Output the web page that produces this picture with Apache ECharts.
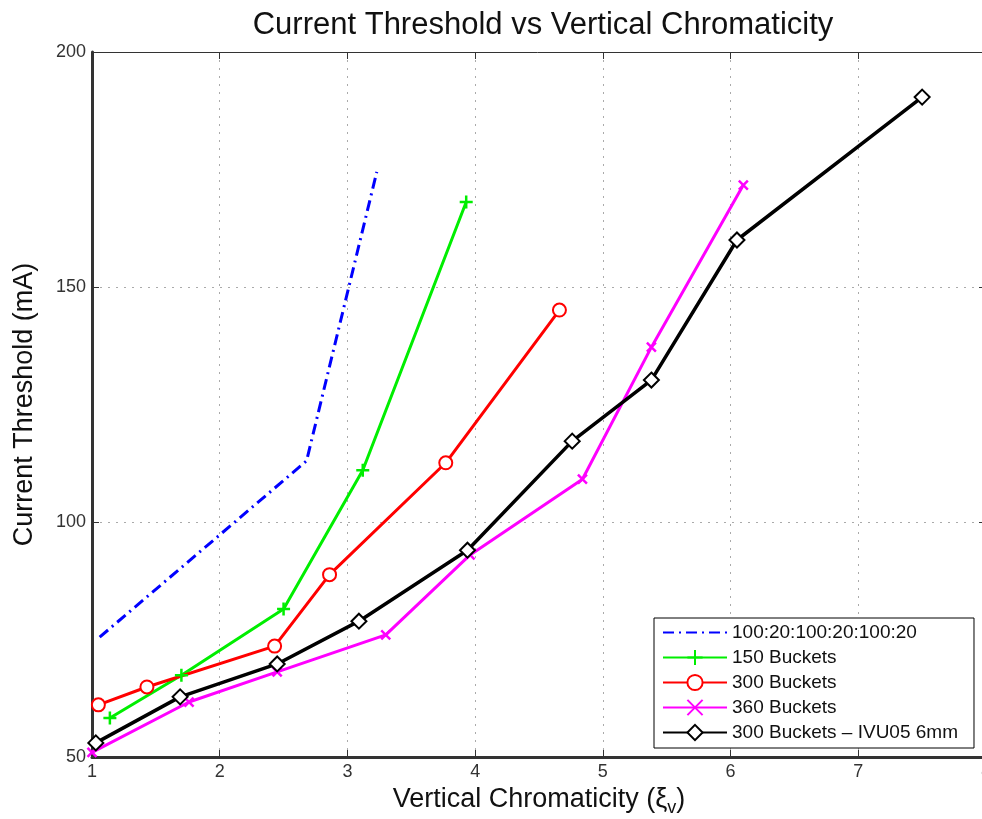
<!DOCTYPE html>
<html>
<head>
<meta charset="utf-8">
<script src="https://cdn.jsdelivr.net/npm/echarts@6/dist/echarts.min.js"></script>
<style>html,body{margin:0;padding:0;background:#fff}#c{width:982px;height:819px}</style>
</head>
<body>
<div id="c"></div>
<script>
var seriesNames = ['100:20:100:20:100:20', '150 Buckets', '300 Buckets', '360 Buckets', '300 Buckets \u2013 IVU05 6mm'];
var blueX = [1.06, 2.68, 3.23];
var blueY = [75.5, 113.0, 174.5];
var greenX = [1.14, 1.70, 2.50, 3.12, 3.93];
var greenY = [58.3, 67.4, 81.5, 111.0, 168.1];
var redX = [1.05, 1.43, 2.43, 2.86, 3.77, 4.66];
var redY = [61.1, 64.9, 73.6, 88.8, 112.6, 145.1];
var magX = [1.00, 1.76, 2.45, 3.30, 3.96, 4.84, 5.38, 6.10];
var magY = [51.0, 61.7, 68.1, 76.0, 93.0, 109.1, 137.2, 171.7];
var blkX = [1.03, 1.69, 2.45, 3.09, 3.94, 4.76, 5.38, 6.05, 7.50];
var blkY = [53.0, 62.8, 69.8, 78.9, 94.0, 117.2, 130.2, 160.0, 190.4];
var xTicks = [1, 8, 1];
var yTicks = [50, 200, 50];

function pairs(xs, ys) { return xs.map(function (x, i) { return [x, ys[i]]; }); }

var FONT = 'Liberation Sans';
var chart = echarts.init(document.getElementById('c'), null, {renderer: 'canvas'});
var plusPath = 'path://M0,5 L10,5 M5,0 L5,10';
var xPath = 'path://M0,0 L10,10 M10,0 L0,10';

chart.setOption({
  animation: false,
  backgroundColor: '#fff',
  title: {
    text: 'Current Threshold vs Vertical Chromaticity',
    left: 538, top: 5, textAlign: 'center',
    textStyle: {fontFamily: FONT, fontSize: 31, fontWeight: 'normal', color: '#111'}
  },
  grid: {left: 92, top: 52, width: 894, height: 705, show: false, containLabel: false, outerBoundsMode: 'none'},
  legend: {
    orient: 'vertical', left: 654, top: 618,
    backgroundColor: '#fff', borderColor: '#000', borderWidth: 1, borderRadius: 0,
    padding: [5, 16, 6, 8],
    itemWidth: 64, itemHeight: 19, itemGap: 6,
    textStyle: {fontFamily: FONT, fontSize: 19, color: '#111', lineHeight: 19},
    data: [{name: seriesNames[0], itemStyle: {opacity: 0}}, seriesNames[1], seriesNames[2], seriesNames[3], seriesNames[4]]
  },
  xAxis: [{
    type: 'value', min: xTicks[0], max: xTicks[1], interval: xTicks[2],
    name: '{n|Vertical Chromaticity (\u03be}{s|v}{n|)}', nameLocation: 'middle', nameGap: 26,
    nameTextStyle: {rich: {n: {fontFamily: FONT, fontSize: 27, color: '#111'}, s: {fontFamily: FONT, fontSize: 18, color: '#111', padding: [16, 0, 0, 0]}}},
    axisLine: {lineStyle: {color: '#333', width: 3}},
    axisTick: {inside: true, length: 7, lineStyle: {color: '#333', width: 1}},
    axisLabel: {fontFamily: FONT, fontSize: 18, color: '#333', margin: 6},
    splitLine: {show: true, lineStyle: {type: [2, 6], color: '#aaa', width: 1}}
  }, {
    type: 'value', position: 'top', min: xTicks[0], max: xTicks[1], interval: xTicks[2],
    axisLine: {show: true, lineStyle: {color: '#333', width: 1}},
    axisTick: {inside: true, length: 7, lineStyle: {color: '#333'}},
    axisLabel: {show: false}, splitLine: {show: false}
  }],
  yAxis: [{
    type: 'value', min: yTicks[0], max: yTicks[1], interval: yTicks[2],
    name: 'Current Threshold (mA)', nameLocation: 'middle', nameGap: 54,
    nameTextStyle: {fontFamily: FONT, fontSize: 27, color: '#111'},
    axisLine: {show: true, lineStyle: {color: '#333', width: 3}},
    axisTick: {show: true, inside: true, length: 7, lineStyle: {color: '#333'}},
    axisLabel: {fontFamily: FONT, fontSize: 18, color: '#333', margin: 6},
    splitLine: {show: true, lineStyle: {type: [2, 6], color: '#aaa', width: 1}}
  }, {
    type: 'value', position: 'right', min: yTicks[0], max: yTicks[1], interval: yTicks[2],
    axisLine: {show: true, lineStyle: {color: '#333', width: 1}},
    axisTick: {show: true, inside: true, length: 7}, axisLabel: {show: false}, splitLine: {show: false}
  }],
  series: [{
    name: seriesNames[0], type: 'line', data: pairs(blueX, blueY), symbol: 'none',
    lineStyle: {color: '#0000ff', width: 3, type: [11, 5, 2, 5]}, itemStyle: {color: '#0000ff'}
  }, {
    name: seriesNames[1], type: 'line', data: pairs(greenX, greenY), symbol: plusPath, symbolSize: 13,
    lineStyle: {color: '#00ee00', width: 3}, itemStyle: {color: '#00ee00', borderColor: '#00ee00', borderWidth: 2.5}
  }, {
    name: seriesNames[2], type: 'line', data: pairs(redX, redY), symbol: 'emptyCircle', symbolSize: 13,
    lineStyle: {color: '#ff0000', width: 3}, itemStyle: {color: '#ff0000', borderColor: '#ff0000', borderWidth: 2.5}
  }, {
    name: seriesNames[3], type: 'line', data: pairs(magX, magY), symbol: xPath, symbolSize: 9,
    lineStyle: {color: '#ff00ff', width: 3}, itemStyle: {color: '#ff00ff', borderColor: '#ff00ff', borderWidth: 2.5}
  }, {
    name: seriesNames[4], type: 'line', data: pairs(blkX, blkY), symbol: 'emptyDiamond', symbolSize: 15,
    lineStyle: {color: '#000', width: 3.5}, itemStyle: {color: '#000', borderColor: '#000', borderWidth: 2.5}
  }]
});
</script>
</body>
</html>
